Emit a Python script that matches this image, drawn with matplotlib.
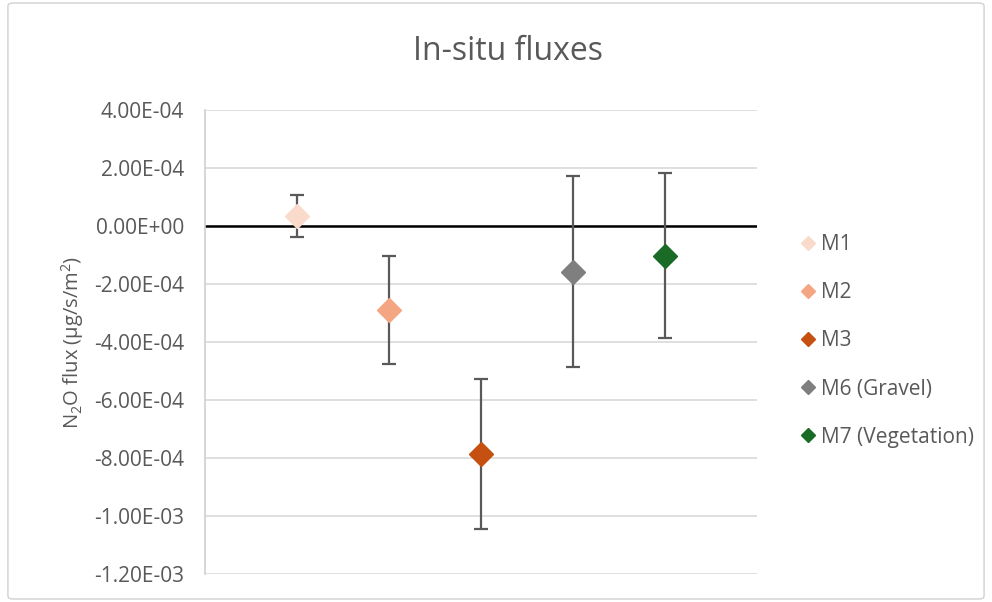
import matplotlib.pyplot as plt
from matplotlib.patches import FancyBboxPatch
from matplotlib.lines import Line2D

plt.rcParams["font.family"] = ["Open Sans", "DejaVu Sans"]
plt.rcParams["mathtext.default"] = "regular"

# Data
sites = ["M1", "M2", "M3", "M6 (Gravel)", "M7 (Vegetation)"]
flux = [3.4e-5, -2.9e-4, -7.86e-4, -1.57e-4, -1.02e-4]
flux_err = [7.3e-5, 1.85e-4, 2.6e-4, 3.3e-4, 2.85e-4]
colors = ["#FADBCB", "#F4A582", "#C5500F", "#7F7F7F", "#1A6B25"]
yticks = [4e-4, 2e-4, 0, -2e-4, -4e-4, -6e-4, -8e-4, -1e-3, -1.2e-3]

fig = plt.figure(figsize=(9.92, 6.02), dpi=100)
ax = fig.add_axes([205 / 992, 28 / 602, 552 / 992, 464 / 602])

# light outer frame like the Excel chart area
frame = FancyBboxPatch((0.008, 0.005), 0.984, 0.99, boxstyle="round,pad=0,rounding_size=0.005",
                       transform=fig.transFigure, fill=False, edgecolor="#D0D0D0", linewidth=1)
fig.patches.append(frame)

for i, (name, y, e, c) in enumerate(zip(sites, flux, flux_err, colors)):
    ax.errorbar(i + 1, y, yerr=e, fmt="none", ecolor="#595959", elinewidth=1.6,
                capsize=5, capthick=1.6, zorder=3)
    ax.plot(i + 1, y, marker="D", markersize=12, color=c, linestyle="none", zorder=4, label=name)

ax.axhline(0, color="black", linewidth=1.8, zorder=2)
ax.set_xlim(0, 6)
ax.set_ylim(-1.2e-3, 4e-4)
ax.set_yticks(yticks)
ax.set_yticklabels([f"{v:.2E}" for v in yticks])
ax.set_xticks([])
ax.yaxis.grid(True, color="#D9D9D9", linewidth=1.2)
ax.set_axisbelow(True)
for s in ["top", "right", "bottom"]:
    ax.spines[s].set_visible(False)
ax.spines["left"].set_color("#D0D0D0")
ax.spines["left"].set_linewidth(1.2)
ax.tick_params(axis="y", length=0, pad=15, labelsize=15, labelcolor="#595959")

ax.set_ylabel("N$_2$O flux (µg/s/m$^2$)", fontsize=14.5, color="#595959", labelpad=6)
fig.text(508 / 992, 1 - 52 / 602, "In-situ fluxes", ha="center", va="center",
         fontsize=23, color="#595959")

handles = [Line2D([], [], marker="D", markersize=7, color=c, linestyle="none") for c in colors]
fig.legend(handles, sites, loc="center left", bbox_to_anchor=(777 / 992, 1 - 341 / 602),
           frameon=False, fontsize=15, labelcolor="#595959", handletextpad=0.0,
           labelspacing=1.3, handlelength=1.2)

fig.savefig("out.png", dpi=100)
